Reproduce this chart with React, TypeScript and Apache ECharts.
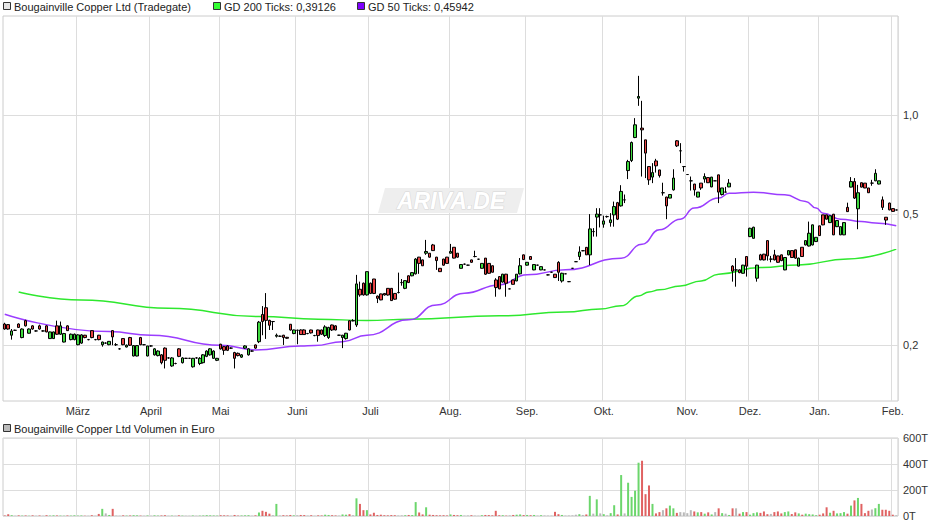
import React, { useEffect, useRef } from 'react';
import * as echarts from 'echarts';

// ---------- categories (trading days per month) ----------
const monthLabels = ['Feb.', 'März', 'April', 'Mai', 'Juni', 'Juli', 'Aug.', 'Sep.', 'Okt.', 'Nov.', 'Dez.', 'Jan.', 'Feb.'];
const monthYears = [2024, 2024, 2024, 2024, 2024, 2024, 2024, 2024, 2024, 2024, 2024, 2025, 2025];
const tradingDays = [21, 21, 20, 22, 21, 23, 22, 22, 24, 18, 20, 21, 2];

// ---------- tick labels ----------
const priceTicks = [0.2, 0.5, 1.0];
const volumeMax = 600;
const volumeStep = 200;

// ---------- daily candles [open, high, low, close] ----------
const ohlc: number[][] = [
  // 0-9
  [.232,.234,.223,.224],[.231,.232,.223,.224],[.2145,.224,.208,.221],[.222,.223,.221,.222],[.232,.233,.226,.2265],[.211,.225,.21,.224],[.2375,.239,.228,.229],[.2175,.225,.217,.224],[.229,.23,.223,.224],[.221,.222,.22,.221],
  // 10-19
  [.229,.231,.223,.224],[.221,.222,.22,.221],[.229,.23,.219,.2195],[.2095,.22,.209,.2195],[.2095,.22,.209,.2195],[.229,.2375,.215,.216],[.216,.236,.215,.229],[.2045,.218,.204,.217],[.229,.23,.221,.2215],[.208,.217,.207,.216],
  // 20-29
  [.208,.217,.207,.216],[.2007,.216,.2,.215],[.203,.216,.202,.215],[.2145,.215,.21,.211],[.208,.209,.207,.208],[.2215,.222,.21,.211],[.208,.209,.207,.208],[.2145,.215,.207,.208],[.2007,.205,.198,.2045],[.203,.204,.202,.203],
  // 30-39
  [.2007,.206,.2,.2055],[.2215,.222,.2,.212],[.2007,.203,.199,.2007],[.195,.196,.194,.195],[.2095,.21,.2,.2007],[.1975,.201,.197,.2],[.211,.212,.199,.2],[.1855,.2,.185,.1995],[.1855,.2,.185,.1995],[.211,.212,.2,.2007],
  // 40-49
  [.2007,.201,.2,.2007],[.1855,.199,.185,.199],[.199,.2,.198,.199],[.187,.196,.186,.195],[.186,.193,.185,.192],[.187,.188,.175,.177],[.196,.197,.17,.18],[.183,.184,.182,.183],[.173,.184,.172,.183],[.176,.177,.175,.176],
  // 50-59
  [.195,.196,.184,.185],[.177,.184,.176,.183],[.1825,.183,.182,.1825],[.1825,.183,.182,.1825],[.172,.183,.171,.1825],[.183,.184,.182,.183],[.176,.184,.174,.1825],[.177,.188,.176,.187],[.185,.193,.184,.192],[.187,.196,.186,.195],
  // 60-69
  [.1825,.193,.182,.192],[.18,.183,.179,.1825],[.2014,.202,.194,.195],[.198,.199,.187,.193],[.199,.2,.192,.193],[.196,.197,.195,.196],[.19,.191,.17,.1825],[.189,.19,.185,.186],[.184,.188,.183,.187],[.196,.2,.195,.199],
  // 70-79
  [.187,.196,.186,.195],[.192,.193,.191,.192],[.2004,.201,.195,.196],[.205,.237,.203,.235],[.248,.263,.2145,.236],[.26,.288,.209,.238],[.238,.239,.2225,.23],[.236,.237,.2225,.236],[.213,.217,.211,.2145],[.213,.214,.212,.213],
  // 80-89
  [.2145,.215,.2004,.211],[.2114,.212,.209,.21],[.2316,.232,.2215,.2225],[.217,.223,.216,.2225],[.222,.223,.2014,.222],[.2225,.2235,.215,.2155],[.2225,.2235,.215,.2155],[.217,.218,.216,.217],[.2225,.223,.217,.218],[.214,.215,.213,.214],
  // 90-99
  [.2225,.223,.205,.214],[.2225,.223,.215,.216],[.214,.23,.212,.2273],[.211,.2275,.209,.2265],[.2304,.231,.221,.2225],[.229,.23,.222,.2225],[.2145,.215,.214,.2145],[.211,.215,.196,.2145],[.2095,.218,.208,.2175],[.2373,.238,.222,.2225],
  // 100-109
  [.2373,.24,.2365,.2373],[.2304,.3271,.2273,.3071],[.2958,.312,.2808,.2843],[.3086,.31,.283,.2843],[.2843,.3346,.283,.3346],[.3086,.31,.286,.2873],[.3178,.318,.286,.2873],[.2821,.283,.2686,.2776],[.2863,.287,.274,.2746],[.2873,.288,.283,.2842],
  // 110-119
  [.2977,.298,.283,.2842],[.2977,.298,.273,.2733],[.2873,.288,.275,.276],[.2892,.3323,.2873,.2892],[.31,.3178,.3033,.31],[.2977,.315,.296,.3142],[.325,.326,.309,.31],[.325,.333,.324,.3323],[.3295,.3678,.328,.3654],[.3703,.371,.3295,.3545],
  // 120-129
  [.3633,.364,.348,.3486],[.3807,.4178,.3763,.3853],[.3807,.381,.369,.3703],[.4033,.4062,.387,.3876],[.3703,.371,.3387,.3615],[.3425,.343,.334,.3346],[.3654,.366,.349,.3501],[.3703,.371,.354,.3545],[.3807,.4062,.38,.3853],[.3968,.397,.367,.3678],
  // 130-139
  [.3807,.381,.369,.3703],[.3425,.352,.342,.3516],[.3525,.354,.351,.3525],[.3501,.351,.349,.3501],[.3632,.364,.356,.3572],[.3719,.3873,.37,.3719],[.365,.366,.364,.365],[.3425,.355,.342,.3545],[.3678,.368,.3271,.3287],[.3545,.355,.33,.3308],
  // 140-149
  [.3487,.349,.333,.3332],[.3157,.3196,.2808,.2993],[.3232,.324,.296,.2966],[.3111,.3295,.31,.3287],[.3287,.3295,.2808,.3086],[.2966,.297,.296,.2966],[.3157,.316,.306,.3062],[.3135,.329,.313,.3287],[.3295,.368,.328,.3487],[.3763,.377,.363,.364],
  // 150-159
  [.3501,.358,.349,.3572],[.3719,.372,.364,.3645],[.3387,.352,.338,.3516],[.3501,.351,.349,.3501],[.3387,.347,.338,.3465],[.3387,.339,.338,.3387],[.3271,.328,.326,.3271],[.3332,.334,.332,.3332],[.3287,.329,.32,.321],[.357,.36,.3135,.3332],
  // 160-169
  [.3135,.332,.31,.3308],[.3295,.33,.329,.3295],[.312,.313,.311,.312],[.3425,.343,.342,.3425],[.3587,.359,.358,.3587],[.3719,.3994,.3633,.384],[.3873,.388,.386,.3873],[.3966,.397,.376,.3763],[.3763,.5003,.3501,.4512],[.4428,.4536,.4276,.4428],
  // 170-179
  [.49,.5215,.4276,.5003],[.4977,.5215,.4558,.4977],[.4663,.495,.455,.4771],[.4917,.495,.488,.4917],[.4715,.5038,.4583,.4807],[.4977,.5461,.4583,.5274],[.542,.545,.48,.483],[.53,.6126,.5274,.5865],[.5528,.5738,.5405,.5528],[.6785,.7313,.6393,.7226],
  // 180-189
  [.7278,.8313,.72,.8255],[.8548,.9792,.8513,.9344],[1.126,1.316,1.067,1.139],[.913,1.105,.6507,.902],[.841,.841,.6437,.7666],[.6978,.7,.6139,.6358],[.6482,.7147,.6214,.6689],[.7256,.7365,.6689,.7014],[.6815,.682,.6461,.6551],[.581,.6232,.5695,.581],
  // 190-199
  [.5637,.565,.483,.53],[.5597,.575,.559,.5738],[.5929,.6847,.59,.6437],[.8355,.84,.8,.8065],[.7791,.8219,.7147,.7791],[.6978,.7,.6738,.6978],[.66,.661,.659,.66],[.6315,.6507,.59,.6315],[.6175,.618,.5695,.5929],[.5637,.584,.563,.5836],
  // 200-209
  [.6214,.622,.5929,.6008],[.6393,.6656,.6232,.6507],[.6461,.647,.622,.6232],[.6052,.649,.604,.6482],[.6315,.632,.631,.6315],[.6584,.659,.5405,.5836],[.5738,.6008,.57,.6008],[.5836,.6052,.583,.5836],[.6052,.6393,.604,.6214],[.3478,.35,.312,.3357],
  // 210-219
  [.3387,.3678,.3012,.3387],[.3387,.34,.331,.3323],[.3308,.351,.33,.3501],[.3719,.372,.3232,.3476],[.4276,.455,.426,.4531],[.4224,.458,.422,.4565],[.3196,.351,.312,.3501],[.3763,.379,.3625,.3632],[.3781,.379,.362,.3632],[.4157,.416,.3615,.3735],
  // 220-229
  [.3652,.3735,.3572,.3652],[.3763,.3897,.362,.3633],[.3735,.374,.356,.3572],[.3763,.377,.36,.3615],[.3387,.37,.338,.3694],[.3763,.388,.375,.3876],[.3876,.388,.368,.3694],[.3897,.39,.366,.3678],[.3478,.369,.347,.3678],[.3968,.397,.371,.3719],
  // 230-239
  [.4033,.416,.402,.4157],[.4003,.4748,.399,.4377],[.4033,.465,.402,.4641],[.4129,.426,.412,.4254],[.4609,.461,.43,.4306],[.4977,.498,.463,.4641],[.4977,.498,.482,.483],[.4715,.495,.47,.4944],[.5,.501,.432,.4328],[.4583,.479,.457,.4783],
  // 240-249
  [.4328,.459,.432,.4583],[.4328,.472,.432,.4715],[.5245,.542,.508,.5091],[.6043,.6482,.603,.6283],[.6283,.6437,.5561,.5597],[.5193,.6139,.4502,.581],[.6232,.624,.603,.6043],[.6214,.622,.6,.6008],[.6008,.601,.58,.581],[.6214,.6358,.6101,.6214],
  // 250-256
  [.6315,.6847,.63,.6656],[.6175,.632,.616,.6315],[.5528,.566,.515,.5245],[.4896,.49,.4641,.48],[.5405,.542,.514,.5155],[.52,.521,.509,.51],[.515,.516,.514,.515],
];

// ---------- daily volume in thousand euro ----------
const volumeT: number[] = [
  4,13,6,2,5,3,4,2,5,2,
  4,2,6,3,5,4,3,2,4,3,
  5,3,4,2,2,6,2,16,55,20,
  8,55,3,2,5,3,4,6,5,3,
  2,4,2,5,3,4,6,2,3,2,
  5,3,2,2,4,2,3,4,6,5,
  4,3,6,5,4,2,8,3,4,5,
  6,2,5,27,40,32,18,6,93,4,
  6,4,8,5,6,8,7,3,6,2,
  5,4,10,8,6,4,3,12,10,14,
  6,136,93,45,45,12,25,8,10,6,
  5,7,6,4,5,6,8,7,107,27,
  12,67,10,8,6,5,6,4,12,8,
  6,8,3,4,6,3,2,6,8,7,
  5,40,6,6,3,5,8,10,12,7,
  8,6,8,3,6,4,3,3,32,14,
  8,3,4,5,10,14,8,12,155,18,
  128,20,14,5,22,83,12,315,20,256,
  147,195,410,425,168,235,93,20,30,45,
  59,80,59,24,30,28,22,45,35,28,
  30,18,28,12,30,59,22,18,8,59,
  59,18,30,30,10,22,28,24,35,14,
  16,30,35,20,30,35,15,28,20,10,
  18,14,12,6,10,20,67,25,40,20,
  22,30,18,80,120,139,93,22,40,50,
  60,93,48,48,40,10,6,
];

// ---------- moving averages [day index, value] ----------
const gd200: number[][] = [
  [4,.2904],[22,.2746],[47,.259],[73,.2444],[90,.24],[104,.2376],[116,.24],[142,.2456],[161,.2524],[171,.2578],
  [177,.2634],[182,.2824],[185,.2904],[188,.2946],[194,.3029],[200,.3136],[205,.3288],[217,.3444],[228,.3508],[242,.3658],[256,.3916],
];
const gd50: number[][] = [
  [0,.2485],[30,.22],[42,.2145],[62,.2],[72,.1935],[85,.199],[89,.1995],[97,.2051],[104,.2145],[116,.2388],
  [124,.2652],[132,.2878],[142,.305],[150,.3272],[161,.3388],[177,.3677],[183,.405],[188,.4482],[194,.483],[198,.5218],
  [205,.5596],[208,.579],[215,.5835],[224,.5726],[230,.5466],[233,.5218],[235,.5036],[240,.483],[246,.475],[250,.4698],[256,.461],
];

const legendTexts = ['Bougainville Copper Ltd (Tradegate)', 'GD 200 Ticks: 0,39126', 'GD 50 Ticks: 0,45942'];
const volumeLegend = 'Bougainville Copper Ltd Volumen in Euro';

// ---------- derived ----------
const categories: string[] = [];
const monthStart: Record<number, string> = {};
{
  let idx = 0;
  tradingDays.forEach((n, m) => {
    monthStart[idx] = monthLabels[m];
    for (let k = 0; k < n; k++) {
      categories.push(`${k + 1}. ${monthLabels[m]} ${monthYears[m]}`);
      idx++;
    }
  });
}
const isMonthStart = (i: number) => i > 0 && monthStart[i] !== undefined;

const UP = '#3fd93f';
const DOWN = '#e84343';
const candleData = ohlc.map(([o, h, l, c]) => [o, c, l, h]);
const volumeData = volumeT.map((v, i) => {
  const [o, , , c] = ohlc[i];
  const color = c > o ? '#6cd66c' : c < o ? '#e06262' : '#b8b8b8';
  return { value: v, itemStyle: { color } };
});

const FONT = 'Liberation Sans, Arial, Helvetica, sans-serif';
const GRID_LINE = '#dddddd';

function buildOption(): any {
  const xCommon = {
    type: 'category',
    data: categories,
    boundaryGap: true,
    axisLine: { show: false },
    axisTick: { show: false },
    splitLine: { show: true, interval: (i: number) => isMonthStart(i), lineStyle: { color: GRID_LINE, width: 1 } },
  };
  return {
    animation: false,
    backgroundColor: '#ffffff',
    textStyle: { fontFamily: FONT },
    grid: [
      { left: 3, top: 16, width: 895, height: 385, show: true, borderColor: '#cccccc', borderWidth: 1, backgroundColor: 'transparent', outerBoundsMode: 'none' },
      { left: 3, top: 438, width: 895, height: 78, show: true, borderColor: '#cccccc', borderWidth: 1, backgroundColor: 'transparent', outerBoundsMode: 'none' },
    ],
    xAxis: [
      {
        ...xCommon,
        gridIndex: 0,
        axisLabel: {
          interval: (i: number) => isMonthStart(i),
          formatter: (_v: string, i: number) => (isMonthStart(i) ? monthStart[i] : ''),
          color: '#333333',
          fontSize: 11,
          margin: 4,
        },
      },
      { ...xCommon, gridIndex: 1, axisLabel: { show: false } },
    ],
    yAxis: [
      {
        type: 'log',
        logBase: 10,
        gridIndex: 0,
        min: 0.1354,
        max: 2.0,
        position: 'right',
        axisLine: { show: false },
        axisTick: { show: false, customValues: priceTicks },
        axisLabel: {
          customValues: priceTicks,
          formatter: (v: number) => v.toFixed(1).replace('.', ','),
          color: '#333333',
          fontSize: 11,
          margin: 5,
        },
        splitLine: { show: true, lineStyle: { color: GRID_LINE, width: 1 } },
      },
      {
        type: 'value',
        gridIndex: 1,
        min: 0,
        max: volumeMax,
        interval: volumeStep,
        position: 'right',
        axisLine: { show: false },
        axisTick: { show: false },
        axisLabel: { formatter: (v: number) => `${v}T`, color: '#333333', fontSize: 11, margin: 5 },
        splitLine: { show: true, lineStyle: { color: GRID_LINE, width: 1 } },
      },
    ],
    series: [
      {
        name: 'GD 200',
        type: 'line',
        xAxisIndex: 0,
        yAxisIndex: 0,
        data: gd200,
        symbol: 'none',
        smooth: true,
        smoothMonotone: 'x',
        lineStyle: { color: '#2ee82e', width: 1.5 },
        z: 2,
        silent: true,
      },
      {
        name: 'GD 50',
        type: 'line',
        xAxisIndex: 0,
        yAxisIndex: 0,
        data: gd50,
        symbol: 'none',
        smooth: true,
        smoothMonotone: 'x',
        lineStyle: { color: '#9b3dff', width: 1.5 },
        z: 2,
        silent: true,
      },
      {
        name: 'Bougainville Copper Ltd (Tradegate)',
        type: 'candlestick',
        xAxisIndex: 0,
        yAxisIndex: 0,
        data: candleData,
        barWidth: 3,
        itemStyle: {
          color: UP,
          color0: DOWN,
          borderColor: '#000000',
          borderColor0: '#000000',
          borderColorDoji: '#000000',
          borderWidth: 1,
        },
        z: 3,
        silent: true,
      },
      {
        name: 'Volumen',
        type: 'bar',
        xAxisIndex: 1,
        yAxisIndex: 1,
        data: volumeData,
        barWidth: 2,
        silent: true,
      },
    ],
    graphic: [
      // watermark
      {
        type: 'polygon',
        z: 1,
        silent: true,
        shape: { points: [[385, 188], [524, 188], [517, 213], [378, 213]] },
        style: { fill: '#eeeeee' },
      },
      {
        type: 'text',
        z: 1,
        silent: true,
        x: 451,
        y: 201,
        style: {
          text: 'ARIVA.DE',
          fill: '#ffffff',
          stroke: '#d6d6d6',
          lineWidth: 1,
          font: 'italic bold 23px ' + FONT,
          align: 'center',
          verticalAlign: 'middle',
        },
      },
      // legend top
      { type: 'rect', shape: { x: 3.5, y: 2.5, width: 7, height: 7 }, style: { fill: '#e6e6e6', stroke: '#333333', lineWidth: 1 } },
      { type: 'text', x: 14, y: 6.5, style: { text: legendTexts[0], fill: '#222222', font: '11px ' + FONT, verticalAlign: 'middle' } },
      { type: 'rect', shape: { x: 213.5, y: 2.5, width: 7, height: 7 }, style: { fill: '#33ff33', stroke: '#333333', lineWidth: 1 } },
      { type: 'text', x: 224, y: 6.5, style: { text: legendTexts[1], fill: '#222222', font: '11px ' + FONT, verticalAlign: 'middle' } },
      { type: 'rect', shape: { x: 357.5, y: 2.5, width: 7, height: 7 }, style: { fill: '#7f00ff', stroke: '#333333', lineWidth: 1 } },
      { type: 'text', x: 368, y: 6.5, style: { text: legendTexts[2], fill: '#222222', font: '11px ' + FONT, verticalAlign: 'middle' } },
      // volume legend
      { type: 'rect', shape: { x: 3.5, y: 424.5, width: 7, height: 7 }, style: { fill: '#bbbbbb', stroke: '#333333', lineWidth: 1 } },
      { type: 'text', x: 14, y: 428.5, style: { text: volumeLegend, fill: '#222222', font: '11px ' + FONT, verticalAlign: 'middle' } },
    ],
  };
}

export default function App() {
  const ref = useRef<HTMLDivElement>(null);
  useEffect(() => {
    if (!ref.current) return;
    const chart = echarts.init(ref.current, undefined, { renderer: 'svg' });
    chart.setOption(buildOption());
    return () => chart.dispose();
  }, []);
  return (
    <div
      ref={ref}
      style={{ position: 'absolute', left: 0, top: 0, width: 940, height: 526, background: '#ffffff' }}
    />
  );
}
